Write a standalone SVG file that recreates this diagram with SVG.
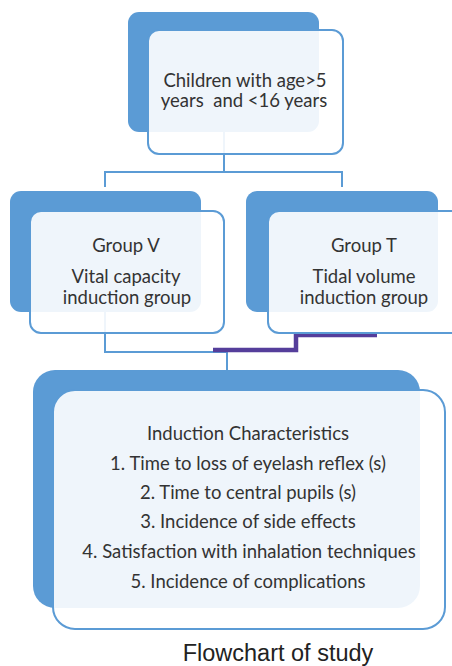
<svg xmlns="http://www.w3.org/2000/svg" width="452" height="666" viewBox="0 0 452 666">
<style>
.back{fill:#5b9bd5;}
.front{fill:#ffffff;fill-opacity:0.9;stroke:#5b9bd5;stroke-width:2;}
.t{font-family:Lato,"Liberation Sans",sans-serif;font-size:18.5px;fill:#333333;text-anchor:middle;white-space:pre;}
.cap{font-family:"Liberation Sans",Arial,sans-serif;font-size:23.5px;fill:#222222;text-anchor:middle;}
.conn{fill:none;stroke:#5b9bd5;stroke-width:2;}
.conn2{fill:none;stroke:#553e9b;stroke-width:4.5;}
</style>
<rect width="452" height="666" fill="#ffffff"/>
<g id="back-shapes">
<rect class="back" x="128" y="12" width="191" height="120" rx="11"/>
<rect class="back" x="10" y="191" width="191" height="121" rx="11"/>
<rect class="back" x="246" y="191" width="192" height="121" rx="11"/>
<rect class="back" x="33" y="370" width="387" height="238" rx="22"/>
</g>
<g id="connectors">
<path class="conn" d="M224 132 V172 M105 187 V172 H342 V187"/>
<path class="conn" d="M105 312 V352 H227 V370"/>
<path class="conn2" d="M377 335 H296 V350 H213"/>
</g>
<g id="node-children">
<rect class="front" x="148" y="30" width="195" height="124" rx="11"/>
<text class="t" x="245" y="87">Children with age&gt;5</text>
<text class="t" x="244" y="107">years  and &lt;16 years</text>
</g>
<g id="node-groupV">
<rect class="front" x="30" y="211" width="194" height="122" rx="11"/>
<text class="t" x="126" y="252">Group V</text>
<text class="t" x="126" y="283">Vital capacity</text>
<text class="t" x="127" y="304">induction group</text>
</g>
<g id="node-groupT">
<rect class="front" x="268" y="211" width="194" height="122" rx="11"/>
<text class="t" x="364" y="252">Group T</text>
<text class="t" x="364" y="283">Tidal volume</text>
<text class="t" x="364" y="304">induction group</text>
</g>
<g id="node-induction">
<rect class="front" x="53" y="390" width="392" height="239" rx="22"/>
<text class="t" x="248" y="440">Induction Characteristics</text>
<text class="t" x="248" y="470">1. Time to loss of eyelash reflex (s)</text>
<text class="t" x="248" y="499">2. Time to central pupils (s)</text>
<text class="t" x="248" y="528">3. Incidence of side effects</text>
<text class="t" x="249" y="558">4. Satisfaction with inhalation techniques</text>
<text class="t" x="248" y="588">5. Incidence of complications</text>
</g>
<text class="cap" x="278" y="661">Flowchart of study</text>
</svg>
